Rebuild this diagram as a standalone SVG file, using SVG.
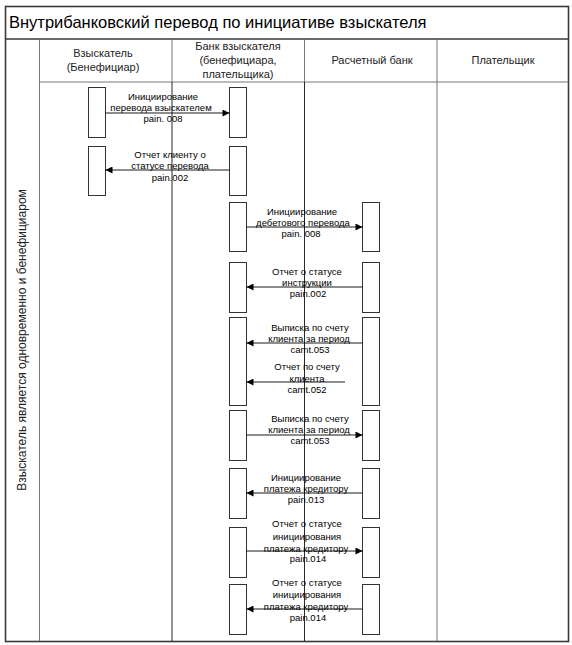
<svg xmlns="http://www.w3.org/2000/svg" width="572" height="645" viewBox="0 0 572 645">
<defs>
<marker id="ah" viewBox="0 0 10 10" refX="10" refY="5" markerWidth="8" markerHeight="7" markerUnits="userSpaceOnUse" orient="auto">
<path d="M0,0 L10,5 L0,10 Z" fill="#000"/>
</marker>
<style>
text{font-family:"Liberation Sans",Arial,sans-serif;fill:#000}
.title{font-size:16.5px}
.hdr{font-size:11px;text-anchor:middle;fill:#222}
.msg{font-size:9.5px;text-anchor:middle}
.vlab{font-size:12px;text-anchor:middle;fill:#222}
.frame{fill:none;stroke:#3a3a3a;stroke-width:1.6}
.lane{stroke:#777;stroke-width:1;fill:none}
.life{stroke:#111;stroke-width:0.9;fill:none}
.act{fill:#fff;stroke:#333;stroke-width:1}
.arr{stroke:#000;stroke-width:0.9;fill:none;marker-end:url(#ah)}
</style>
</defs>
<rect width="572" height="645" fill="#fff"/>
<g id="frame">
<rect class="frame" x="5.5" y="6.5" width="563" height="635"/>
<line class="frame" x1="5.5" y1="39" x2="568.5" y2="39"/>
<line class="lane" x1="39.5" y1="39" x2="39.5" y2="641"/>
<line class="lane" x1="39.5" y1="82" x2="568.5" y2="82"/>
<line class="lane" x1="172" y1="39" x2="172" y2="82"/>
<line class="lane" x1="304.5" y1="39" x2="304.5" y2="82"/>
<line class="lane" x1="437" y1="39" x2="437" y2="641"/>
<line class="life" x1="172" y1="82" x2="172" y2="641"/>
<line class="life" x1="304.5" y1="82" x2="304.5" y2="641"/>
<text class="title" x="9" y="28">Внутрибанковский перевод по инициативе взыскателя</text>
<text class="vlab" transform="translate(26,340) rotate(-90)">Взыскатель является одновременно и бенефициаром</text>
</g>
<g id="lane-vzyskatel"><text class="hdr" x="103" y="57">Взыскатель</text><text class="hdr" x="103" y="71">(Бенефициар)</text></g>
<g id="lane-bank"><text class="hdr" x="238" y="50">Банк взыскателя</text><text class="hdr" x="238" y="64">(бенефициара,</text><text class="hdr" x="238" y="78">плательщика)</text></g>
<g id="lane-raschet"><text class="hdr" x="372" y="64">Расчетный банк</text></g>
<g id="lane-platelshik"><text class="hdr" x="503" y="64">Плательщик</text></g>
<g id="activations">
<rect class="act" x="88.5" y="87.5" width="17" height="50"/>
<rect class="act" x="229.5" y="87.5" width="17" height="50"/>
<rect class="act" x="88.5" y="146.5" width="17" height="49"/>
<rect class="act" x="229.5" y="146.5" width="17" height="49"/>
<rect class="act" x="229.5" y="202.5" width="17" height="49"/>
<rect class="act" x="362.5" y="202.5" width="17" height="49"/>
<rect class="act" x="229.5" y="262.5" width="17" height="50"/>
<rect class="act" x="362.5" y="262.5" width="17" height="50"/>
<rect class="act" x="229.5" y="317.5" width="17" height="88"/>
<rect class="act" x="362.5" y="317.5" width="17" height="88"/>
<rect class="act" x="229.5" y="410.5" width="17" height="50"/>
<rect class="act" x="362.5" y="410.5" width="17" height="50"/>
<rect class="act" x="229.5" y="468.5" width="17" height="50"/>
<rect class="act" x="362.5" y="468.5" width="17" height="50"/>
<rect class="act" x="229.5" y="527.5" width="17" height="50"/>
<rect class="act" x="362.5" y="527.5" width="17" height="50"/>
<rect class="act" x="229.5" y="584.5" width="17" height="50"/>
<rect class="act" x="362.5" y="584.5" width="17" height="50"/>
</g>
<g id="connectors">
<line class="arr" x1="105.5" y1="113" x2="229.5" y2="113"/>
<line class="arr" x1="229.5" y1="170" x2="105.5" y2="170"/>
<line class="arr" x1="246.5" y1="227" x2="362.5" y2="227"/>
<line class="arr" x1="362.5" y1="287" x2="246.5" y2="287"/>
<line class="arr" x1="362.5" y1="343" x2="246.5" y2="343"/>
<line class="arr" x1="345" y1="382" x2="246.5" y2="382"/>
<line class="arr" x1="246.5" y1="435" x2="362.5" y2="435"/>
<line class="arr" x1="362.5" y1="493" x2="246.5" y2="493"/>
<line class="arr" x1="246.5" y1="551" x2="362.5" y2="551"/>
<line class="arr" x1="362.5" y1="609" x2="246.5" y2="609"/>
</g>
<g id="labels">
<g id="m1"><text class="msg" x="163" y="99.5">Инициирование</text><text class="msg" x="161" y="110.5">перевода взыскателем</text><text class="msg" x="163" y="121.5">pain. 008</text></g>
<g id="m2"><text class="msg" x="170" y="157.5">Отчет клиенту о</text><text class="msg" x="170" y="168.5">статусе перевода</text><text class="msg" x="170" y="180.5">pain.002</text></g>
<g id="m3"><text class="msg" x="302" y="214.5">Инициирование</text><text class="msg" x="303" y="225.5">дебетового перевода</text><text class="msg" x="301" y="236.5">pain. 008</text></g>
<g id="m4"><text class="msg" x="307" y="274.5">Отчет о статусе</text><text class="msg" x="307" y="285.5">инструкции</text><text class="msg" x="308" y="296.5">pain.002</text></g>
<g id="m5"><text class="msg" x="310" y="330.5">Выписка по счету</text><text class="msg" x="309" y="341.5">клиента за период</text><text class="msg" x="310" y="352.5">camt.053</text></g>
<g id="m6"><text class="msg" x="307" y="369.5">Отчет по счету</text><text class="msg" x="307" y="381.5">клиента</text><text class="msg" x="307" y="392.5">camt.052</text></g>
<g id="m7"><text class="msg" x="310" y="421.5">Выписка по счету</text><text class="msg" x="309" y="432.5">клиента за период</text><text class="msg" x="310" y="443.5">camt.053</text></g>
<g id="m8"><text class="msg" x="306" y="480.5">Инициирование</text><text class="msg" x="306" y="491.5">платежа кредитору</text><text class="msg" x="306" y="502.5">pain.013</text></g>
<g id="m9"><text class="msg" x="307" y="526.5">Отчет о статусе</text><text class="msg" x="307" y="539.5">инициирования</text><text class="msg" x="306" y="551.5">платежа кредитору</text><text class="msg" x="308" y="561.5">pain.014</text></g>
<g id="m10"><text class="msg" x="307" y="585.5">Отчет о статусе</text><text class="msg" x="307" y="597.5">инициирования</text><text class="msg" x="306" y="609.5">платежа кредитору</text><text class="msg" x="308" y="620.5">pain.014</text></g>
</g>
</svg>
